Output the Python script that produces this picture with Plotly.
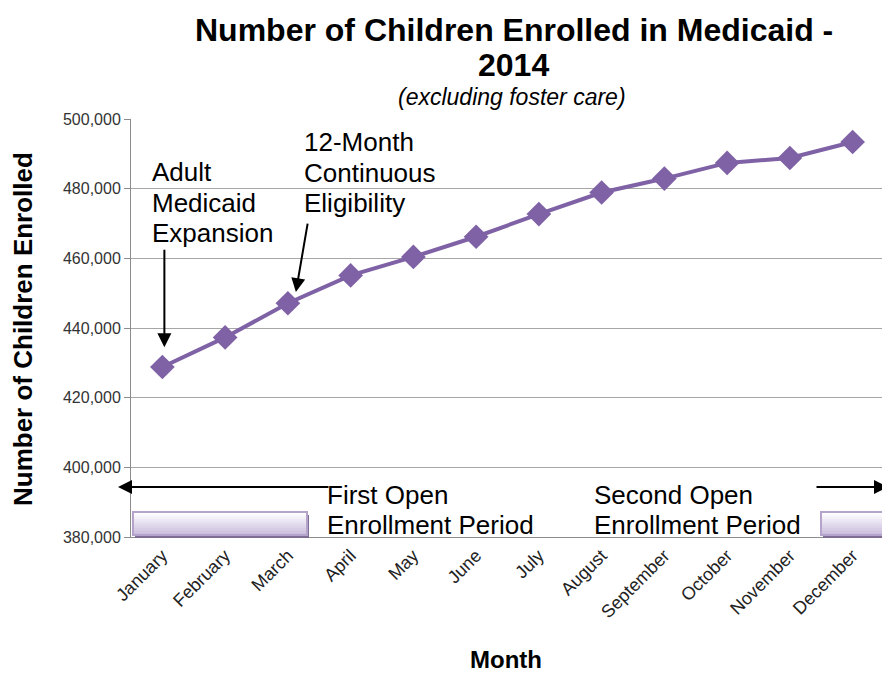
import plotly.graph_objects as go

months = ["January", "February", "March", "April", "May", "June", "July",
          "August", "September", "October", "November", "December"]
enrolled = [428800, 437300, 447100, 455100, 460400, 466200, 472700,
            478900, 482900, 487400, 488800, 493400]

# page offset (browser body margin) of 8px
OFF = 8
W, H = 890 - OFF, 675 - OFF
L, T = 131 - OFF, 119 - OFF
PW, PH = 753, 418
R = W - L - PW
B = H - T - PH

def px(x):
    return (x - OFF - L) / PW

def py(y):
    return (H - B - (y - OFF)) / PH

FONT = "Liberation Sans, Arial, sans-serif"
PURPLE = "#7F62A5"

fig = go.Figure()
fig.add_trace(go.Scatter(
    x=months, y=enrolled, mode="lines+markers",
    line=dict(color=PURPLE, width=4),
    marker=dict(symbol="diamond", size=19, color=PURPLE),
    showlegend=False, cliponaxis=False,
))

shapes = []
annotations = []

def box(x0, x1, y0, y1):
    shapes.append(dict(type="rect", xref="paper", yref="paper",
                       x0=px(x0 + 2), x1=px(x1 + 2), y0=py(y1 + 3), y1=py(y0 + 3),
                       fillcolor="#7E6C95", line=dict(width=0), layer="above"))
    n = 10
    c0 = (255, 255, 255)
    c1 = (203, 190, 222)
    for i in range(n):
        t = i / (n - 1)
        c = tuple(int(c0[k] + (c1[k] - c0[k]) * t) for k in range(3))
        ya = y0 + (y1 - y0) * i / n
        shapes.append(dict(type="rect", xref="paper", yref="paper",
                           x0=px(x0), x1=px(x1), y0=py(y1), y1=py(ya),
                           fillcolor="rgb(%d,%d,%d)" % c, line=dict(width=0), layer="above"))
    shapes.append(dict(type="rect", xref="paper", yref="paper",
                       x0=px(x0), x1=px(x1), y0=py(y1), y1=py(y0),
                       fillcolor="rgba(0,0,0,0)", line=dict(color="#B4A3CB", width=2), layer="above"))

box(133, 307, 512, 535)
box(821, 884, 512, 535)

txt = dict(family=FONT, size=26, color="black")

def line_text(s, x, y, font=txt, anchor="left"):
    annotations.append(dict(text=s, xref="paper", yref="paper", x=px(x), y=py(y),
                            xanchor=anchor, yanchor="middle", showarrow=False,
                            borderpad=0, font=font))

for s, y in zip(["Adult", "Medicaid", "Expansion"], [172, 203, 233]):
    line_text(s, 151, y)
for s, y in zip(["12-Month", "Continuous", "Eligibility"], [142, 173, 203]):
    line_text(s, 303, y)
for s, y in zip(["First Open", "Enrollment Period"], [495, 525]):
    line_text(s, 326, y)
for s, y in zip(["Second Open", "Enrollment Period"], [495, 525]):
    line_text(s, 593, y)

title_font = dict(family=FONT, size=32, color="black")
line_text("<b>Number of Children Enrolled in Medicaid -</b>", 514, 30, title_font, "center")
line_text("<b>2014</b>", 513, 65, title_font, "center")
line_text("<i>(excluding foster care)</i>", 512, 97,
          dict(family=FONT, size=23, color="black"), "center")
line_text("<b>Month</b>", 506, 659, dict(family=FONT, size=24, color="black"), "center")
annotations.append(dict(text="<b>Number of Children Enrolled</b>", xref="paper", yref="paper",
                        x=px(23), y=py(329), xanchor="center", yanchor="middle",
                        textangle=-90, showarrow=False,
                        font=dict(family=FONT, size=26, color="black")))

arrow = dict(text="", showarrow=True, arrowhead=2, arrowsize=1.4,
             arrowwidth=2, arrowcolor="black")
annotations += [
    dict(arrow, x="January", y=434500, xref="x", yref="y", xshift=2, ax=0, ay=-99),
    dict(arrow, x="March", y=450300, xref="x", yref="y", xshift=8, ax=12, ay=-70),
    dict(arrow, xref="paper", yref="paper", x=px(118), y=py(487), ax=212, ay=0),
    dict(arrow, xref="paper", yref="paper", x=px(888), y=py(487), ax=-73, ay=0),
]

fig.update_layout(
    width=W, height=H,
    margin=dict(l=L, r=R, t=T, b=B),
    paper_bgcolor="white", plot_bgcolor="white",
    font=dict(family=FONT, color="black"),
    shapes=shapes, annotations=annotations,
    xaxis=dict(
        type="category", tickangle=-45, range=[-0.5, 11.5],
        tickfont=dict(family=FONT, size=18, color="#222"),
        showline=True, linecolor="#8C8C8C", linewidth=1,
        showgrid=False, ticks="", zeroline=False,
    ),
    yaxis=dict(
        range=[380000, 500000], dtick=20000, tickformat=",",
        tickfont=dict(family=FONT, size=16, color="#333"),
        showline=True, linecolor="#8C8C8C", linewidth=1,
        showgrid=True, gridcolor="#A6A6A6", gridwidth=1,
        ticks="outside", ticklen=6, tickcolor="#8C8C8C",
        zeroline=False,
    ),
)

fig.write_html("out.html")
